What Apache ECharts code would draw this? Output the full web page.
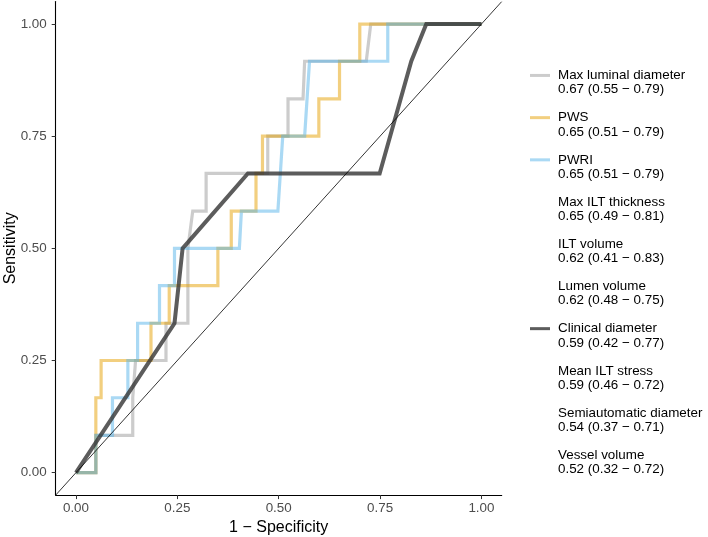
<!DOCTYPE html>
<html>
<head>
<meta charset="utf-8">
<script src="https://cdn.jsdelivr.net/npm/echarts@6/dist/echarts.min.js"></script>
<style>html,body{margin:0;padding:0;background:#fff}#c{width:708px;height:537px}</style>
</head>
<body>
<div id="c"></div>
<script>
// ---- data ----
const seriesNames = ['Max luminal diameter','PWS','PWRI','Max ILT thickness','ILT volume','Lumen volume','Clinical diameter','Mean ILT stress','Semiautomatic diameter','Vessel volume'];
const aucLabels = ['0.67 (0.55 \u2212 0.79)','0.65 (0.51 \u2212 0.79)','0.65 (0.51 \u2212 0.79)','0.65 (0.49 \u2212 0.81)','0.62 (0.41 \u2212 0.83)','0.62 (0.48 \u2212 0.75)','0.59 (0.42 \u2212 0.77)','0.59 (0.46 \u2212 0.72)','0.54 (0.37 \u2212 0.71)','0.52 (0.32 \u2212 0.72)'];
const tickValues = [0, 0.25, 0.5, 0.75, 1];

const maxLuminalFpr = [0, 0.049, 0.049, 0.140, 0.140, 0.147, 0.222, 0.222, 0.276, 0.276, 0.288, 0.321, 0.321, 0.473, 0.473, 0.523, 0.523, 0.560, 0.564, 0.716, 0.727, 1];
const maxLuminalTpr = [0, 0, 0.083, 0.083, 0.167, 0.25, 0.25, 0.333, 0.333, 0.5, 0.583, 0.583, 0.667, 0.667, 0.75, 0.75, 0.833, 0.833, 0.917, 0.917, 1, 1];

const pwsFpr = [0, 0.049, 0.049, 0.062, 0.062, 0.185, 0.185, 0.230, 0.230, 0.350, 0.350, 0.383, 0.383, 0.444, 0.444, 0.460, 0.460, 0.599, 0.599, 0.650, 0.650, 0.700, 0.700, 1];
const pwsTpr = [0, 0, 0.167, 0.167, 0.25, 0.25, 0.333, 0.333, 0.417, 0.417, 0.5, 0.5, 0.583, 0.583, 0.667, 0.667, 0.75, 0.75, 0.833, 0.833, 0.917, 0.917, 1, 1];

const pwriFpr = [0, 0.049, 0.049, 0.090, 0.090, 0.128, 0.128, 0.152, 0.152, 0.206, 0.206, 0.243, 0.243, 0.403, 0.408, 0.498, 0.510, 0.564, 0.576, 0.769, 0.769, 1];
const pwriTpr = [0, 0, 0.083, 0.083, 0.167, 0.167, 0.25, 0.25, 0.333, 0.333, 0.417, 0.417, 0.5, 0.5, 0.583, 0.583, 0.75, 0.75, 0.917, 0.917, 1, 1];

const clinicalFpr = [0, 0.243, 0.263, 0.424, 0.749, 0.827, 0.864, 1];
const clinicalTpr = [0, 0.333, 0.5, 0.667, 0.667, 0.917, 1, 1];

const refLine = [-0.05, 1.05];

// ---- styles ----
const FONT = '"Liberation Sans", Arial, sans-serif';
const colors = {
  'Max luminal diameter': 'rgba(153,153,153,0.5)',
  'PWS': 'rgba(230,159,0,0.5)',
  'PWRI': 'rgba(86,180,233,0.5)',
  'Clinical diameter': 'rgba(51,51,51,0.8)'
};
const curves = {
  'Max luminal diameter': [maxLuminalFpr, maxLuminalTpr],
  'PWS': [pwsFpr, pwsTpr],
  'PWRI': [pwriFpr, pwriTpr],
  'Clinical diameter': [clinicalFpr, clinicalTpr]
};
const zip = (a, b) => a.map((v, i) => [v, b[i]]);

const series = seriesNames.map(n => {
  const c = colors[n] || 'rgba(0,0,0,0)';
  const d = curves[n] ? zip(curves[n][0], curves[n][1]) : [];
  return {
    name: n, type: 'line', data: d, showSymbol: false, symbol: 'none', silent: true,
    lineStyle: { color: c, width: n === 'Clinical diameter' ? 4 : 3.2, cap: 'butt', join: 'miter' },
    itemStyle: { color: c }, animation: false
  };
});
series.push({
  name: 'ref', type: 'line', data: zip(refLine, refLine), showSymbol: false, symbol: 'none', silent: true,
  lineStyle: { color: '#000', width: 0.8 }, animation: false
});

const aucMap = {};
seriesNames.forEach((n, i) => aucMap[n] = aucLabels[i]);

const chart = echarts.init(document.getElementById('c'), null, { renderer: 'canvas' });
chart.setOption({
  backgroundColor: '#fff',
  animation: false,
  grid: { left: 55.7, right: 206.3, top: 1.6, bottom: 41.9, containLabel: false, outerBoundsMode: 'none' },
  xAxis: {
    type: 'value', min: -0.05, max: 1.05,
    name: '1 \u2212 Specificity', nameLocation: 'middle', nameGap: 24, nameMoveOverlap: false,
    nameTextStyle: { fontSize: 16, color: '#000', fontFamily: FONT },
    axisLine: { onZero: false, lineStyle: { color: '#000', width: 1.1 } },
    axisTick: { show: true, length: 4, customValues: tickValues, lineStyle: { color: '#333', width: 1 } },
    axisLabel: { customValues: tickValues, formatter: v => v.toFixed(2), color: '#4d4d4d', fontSize: 13.4, margin: 7, fontFamily: FONT },
    splitLine: { show: false }
  },
  yAxis: {
    type: 'value', min: -0.05, max: 1.05,
    name: 'Sensitivity', nameLocation: 'middle', nameGap: 37, nameMoveOverlap: false,
    nameTextStyle: { fontSize: 16, color: '#000', fontFamily: FONT },
    axisLine: { show: true, onZero: false, lineStyle: { color: '#000', width: 1.1 } },
    axisTick: { show: true, length: 4, customValues: tickValues, lineStyle: { color: '#333', width: 1 } },
    axisLabel: { customValues: tickValues, formatter: v => v.toFixed(2), color: '#4d4d4d', fontSize: 13.4, margin: 9, fontFamily: FONT },
    splitLine: { show: false }
  },
  legend: {
    orient: 'vertical', left: 530, top: 54, padding: 0,
    icon: 'rect', itemWidth: 20, itemHeight: 3, itemGap: -0.7,
    selectedMode: false,
    formatter: n => '\n' + n + '\n' + aucMap[n],
    textStyle: { fontSize: 13.4, lineHeight: 14.3, color: '#000', fontFamily: FONT, padding: [0, 0, 0, 3] },
    data: seriesNames.map(n => ({ name: n, icon: 'rect', itemStyle: { color: colors[n] || 'rgba(0,0,0,0)' } }))
  },
  series: series
});
</script>
</body>
</html>
